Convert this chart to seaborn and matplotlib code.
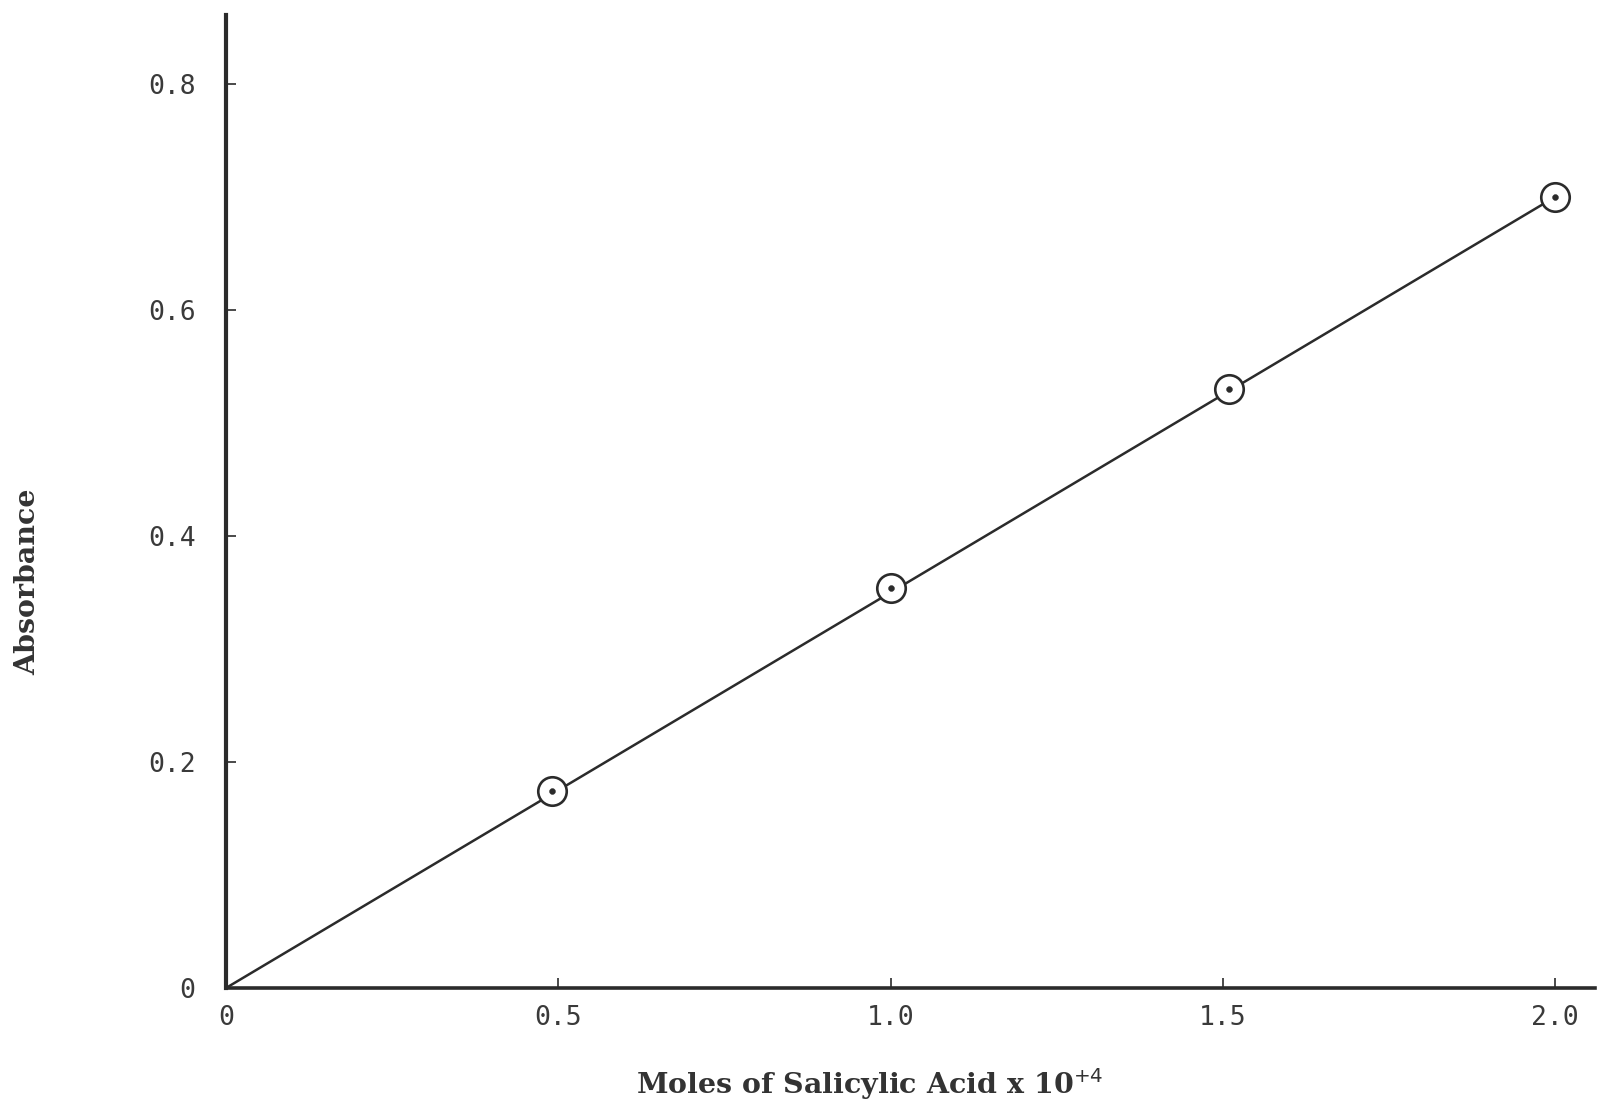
import matplotlib
matplotlib.use("Agg")
import matplotlib.pyplot as plt
import seaborn as sns
import pandas as pd

# Data
moles = [0.49, 1.0, 1.51, 2.0]          # x 10^4
absorbance = [0.174, 0.354, 0.53, 0.70]
fit_x = [0.0, 2.0]
fit_y = [0.0, 0.70]
xticks = [0, 0.5, 1.0, 1.5, 2.0]
xticklabels = ["0", "0.5", "1.0", "1.5", "2.0"]
yticks = [0, 0.2, 0.4, 0.6, 0.8]
yticklabels = ["0", "0.2", "0.4", "0.6", "0.8"]

sns.set_theme(style="white")
plt.rcParams["font.family"] = ["DejaVu Sans"]

fig = plt.figure(figsize=(15.97, 11.09), dpi=100)
ax = fig.add_axes([226/1597, 1 - 988/1109, 1369/1597, 973/1109])

ink = "#2b2b2b"
pts = pd.DataFrame({"x": moles, "y": absorbance})
fit = pd.DataFrame({"x": fit_x, "y": fit_y})

sns.lineplot(data=fit, x="x", y="y", ax=ax, color=ink, linewidth=1.8)
sns.scatterplot(data=pts, x="x", y="y", ax=ax, s=420, facecolor="white",
                edgecolor=ink, linewidth=1.9, zorder=3)
sns.scatterplot(data=pts, x="x", y="y", ax=ax, s=18, color=ink,
                edgecolor=ink, zorder=4)

ax.set_xlim(0, 2.06)
ax.set_ylim(0, 0.861)

for side in ["top", "right"]:
    ax.spines[side].set_visible(False)
ax.spines["left"].set_linewidth(3.0)
ax.spines["bottom"].set_linewidth(2.6)
ax.spines["left"].set_color(ink)
ax.spines["bottom"].set_color(ink)

ax.set_xticks(xticks)
ax.set_xticklabels(xticklabels)
ax.set_yticks(yticks)
ax.set_yticklabels(yticklabels)
ax.tick_params(axis="both", direction="in", length=7, width=1.2, color=ink,
               labelcolor="#3a3a3a", bottom=True, left=True)
ax.tick_params(axis="y", pad=22)
ax.tick_params(axis="x", pad=12)
for lab in ax.get_xticklabels() + ax.get_yticklabels():
    lab.set_family("DejaVu Sans Mono")
    lab.set_fontsize(19)

ax.set_xlabel("")
ax.set_ylabel("")

fig.text(870/1597, 1 - 1084/1109, r"Moles of Salicylic Acid x 10$^{+4}$",
         ha="center", va="center", fontsize=20.5, fontweight="bold",
         family="DejaVu Serif", color="#333333")
fig.text(28/1597, 1 - 582/1109, "Absorbance", rotation=90,
         ha="center", va="center", fontsize=20.5, fontweight="bold",
         family="DejaVu Serif", color="#333333")

fig.savefig("out.png", dpi=100, facecolor="white")
